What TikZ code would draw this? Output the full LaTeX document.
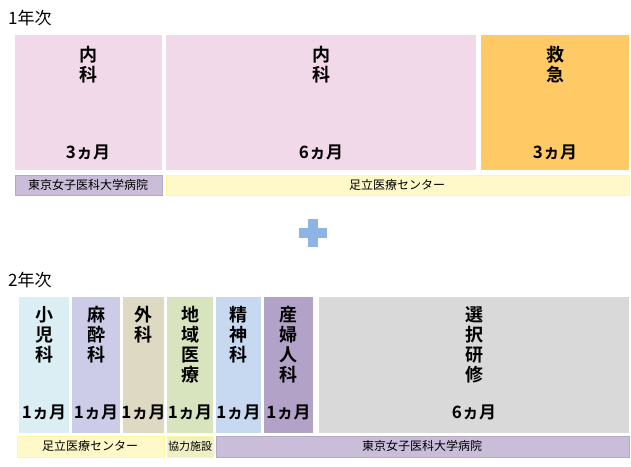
\documentclass[tikz,border=0pt]{standalone}
\usepackage{fontspec}
\setmainfont{Noto Sans CJK JP}
\newfontfamily\jpb{Noto Sans CJK JP Bold}
\begin{document}
\begin{tikzpicture}[x=1pt,y=-1pt,
 ttl/.style={font=\jpb\fontsize{18}{20}\selectfont,align=center,anchor=north,inner sep=0},
 dur/.style={font=\jpb\fontsize{17}{18}\selectfont,inner sep=0},
 lbl/.style={font=\fontsize{12}{13}\selectfont,inner sep=0},
 yr/.style={font=\fontsize{17}{18}\selectfont,anchor=west,inner sep=0}]
\useasboundingbox (0,0) rectangle (631,466);
\definecolor{pk}{HTML}{F2D9EA}\definecolor{og}{HTML}{FFCA66}
\definecolor{yl}{HTML}{FFF8C8}\definecolor{pu}{HTML}{C9BDDA}\definecolor{pl}{HTML}{8EB4E3}
\node[yr] (y1) at (8,18) {1年次};
\fill[pk] (15,35) rectangle (162,170);
\fill[pk] (166,35) rectangle (476,170);
\fill[og] (481,35) rectangle (629,170);
\node[ttl] (a1) at (88,46) {内\\科};
\node[ttl] (a2) at (321,46) {内\\科};
\node[ttl] (a3) at (555,46) {救\\急};
\node[dur] (d1) at (88,152) {3ヵ月};
\node[dur] (d2) at (321,152) {6ヵ月};
\node[dur] (d3) at (555,152) {3ヵ月};
\filldraw[fill=pu,draw=pu!70!gray] (15,175) rectangle (162,195);
\node[lbl] (b1) at (88,185) {東京女子医科大学病院};
\filldraw[fill=yl,draw=yellow!40!white] (166,175) rectangle (629,195);
\node[lbl] (b2) at (397,185) {足立医療センター};
\fill[pl] (308,219) rectangle (318,247);
\fill[pl] (299,228) rectangle (327,238);
\node[yr] (y2) at (8,280) {2年次};
\definecolor{c1}{HTML}{DAEEF3}\definecolor{c2}{HTML}{CCCCE8}\definecolor{c3}{HTML}{DDD9C3}
\definecolor{c4}{HTML}{D7E4BD}\definecolor{c5}{HTML}{C6D9F0}\definecolor{c6}{HTML}{B3A2C7}
\definecolor{c7}{HTML}{D9D9D9}
\foreach \l/\r/\c/\t/\d in {19/69/c1/小\\児\\科/1ヵ月,72/120/c2/麻\\酔\\科/1ヵ月,123/164/c3/外\\科/1ヵ月,
 167/213/c4/地\\域\\医\\療/1ヵ月,216/261/c5/精\\神\\科/1ヵ月,264/313/c6/産\\婦\\人\\科/1ヵ月,319/629/c7/選\\択\\研\\修/6ヵ月}{
 \fill[\c] (\l,297) rectangle (\r,433);
 \node[ttl] at ({(\l+\r)/2},306) {\t};
 \node[dur] at ({(\l+\r)/2},412) {\d};
}
\filldraw[fill=yl,draw=yellow!40!white] (17,436) rectangle (164,457);
\node[lbl] (b3) at (90,446) {足立医療センター};
\filldraw[fill=yl!60!c4,draw=yellow!40!white] (167,436) rectangle (213,457);
\node[font=\fontsize{11}{12}\selectfont,inner sep=0] (b4) at (190,446) {協力施設};
\filldraw[fill=pu,draw=pu!70!gray] (216,436) rectangle (629,457);
\node[lbl] (b5) at (422,446) {東京女子医科大学病院};
\end{tikzpicture}
\end{document}
